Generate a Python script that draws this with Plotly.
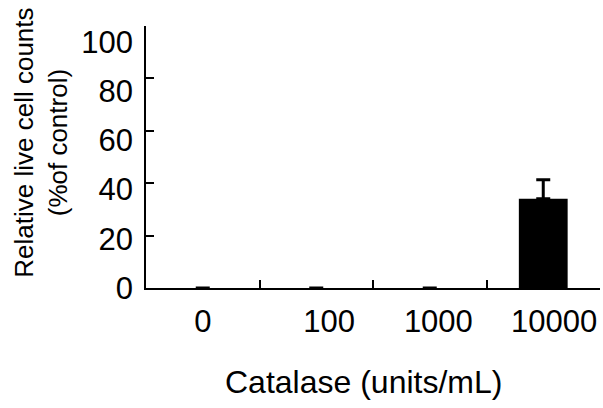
import plotly.graph_objects as go

# Catalase dose groups and relative live cell counts (% of control)
categories = ["0", "100", "1000", "10000"]
mean_counts = [0.0, 0.0, 0.0, 34.1]
sd_upper = [0.0, 0.0, 0.0, 7.2]
sd_lower = [0.8, 0.8, 0.8, 0.0]
y_ticks = [0, 20, 40, 60, 80, 100]

# category labels, padded with fixed-width spaces so they sit a little right of centre
x_labels = ["0", "\u2007\u00a0100", "\u2007" + "1000", "\u2002\u2009" + "10000"]

FONT = "Liberation Sans, Arial, sans-serif"

fig = go.Figure()

fig.add_trace(
    go.Bar(
        x=categories,
        y=mean_counts,
        width=0.43,
        marker=dict(color="black", line=dict(width=0)),
        cliponaxis=False,
        error_y=dict(
            type="data",
            symmetric=False,
            array=sd_upper,
            arrayminus=[0] * len(categories),
            color="black",
            thickness=3,
            width=7,
        ),
    )
)

# lower SD caps for groups whose mean sits on the baseline
low_x = [c for c, m, s in zip(categories, mean_counts, sd_lower) if s > 0]
low_y = [m - s for m, s in zip(mean_counts, sd_lower) if s > 0]
fig.add_trace(
    go.Scatter(
        x=low_x,
        y=low_y,
        mode="markers",
        cliponaxis=False,
        marker=dict(symbol="line-ew", size=15, line=dict(width=4, color="black")),
        hoverinfo="skip",
    )
)

# carrier for the tick-label axis
fig.add_trace(
    go.Scatter(
        x=[categories[0]],
        y=[y_ticks[0]],
        yaxis="y2",
        mode="markers",
        marker=dict(opacity=0),
        hoverinfo="skip",
    )
)

fig.update_layout(
    width=603,
    height=408,
    margin=dict(l=146, r=3, t=26, b=119.5),
    paper_bgcolor="white",
    plot_bgcolor="white",
    showlegend=False,
    font=dict(family=FONT, color="black"),
    xaxis=dict(
        type="category",
        range=[-0.5, 3.5],
        showline=True,
        linecolor="black",
        linewidth=1.5,
        ticks="inside",
        tickson="boundaries",
        ticklen=8,
        tickwidth=1.5,
        tickcolor="black",
        tickvals=categories,
        ticktext=x_labels,
        tickangle=0,
        tickfont=dict(size=31, family=FONT),
        ticklabelstandoff=5,
        showgrid=False,
    ),
    yaxis=dict(
        range=[0, 100],
        tickvals=y_ticks,
        showticklabels=False,
        showline=True,
        linecolor="black",
        linewidth=1.5,
        ticks="inside",
        ticklen=8,
        tickwidth=1.5,
        tickcolor="black",
        showgrid=False,
        zeroline=False,
    ),
    yaxis2=dict(
        overlaying="y",
        range=[0, 106.5],
        side="left",
        tickvals=y_ticks,
        showline=False,
        ticks="",
        showgrid=False,
        zeroline=False,
        tickfont=dict(size=31, family=FONT),
        ticklabelstandoff=12,
    ),
    annotations=[
        dict(
            text="Catalase (units/mL)",
            xref="paper",
            yref="paper",
            x=0.480,
            y=-0.359,
            xanchor="center",
            yanchor="middle",
            showarrow=False,
            font=dict(size=32, family=FONT),
        ),
        dict(
            text="Relative live cell counts<br>(%of control)",
            xref="paper",
            yref="paper",
            x=-0.230,
            y=0.553,
            xanchor="center",
            yanchor="middle",
            textangle=-90,
            showarrow=False,
            font=dict(size=26, family=FONT),
        ),
    ],
)

fig.write_html("out.html")
